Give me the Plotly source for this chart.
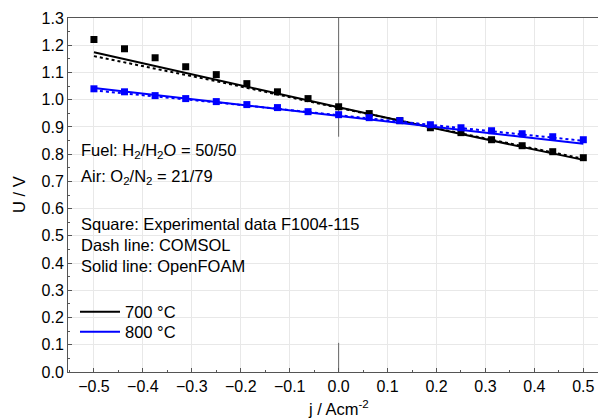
import plotly.graph_objects as go

j_exp = [-0.5, -0.4375, -0.375, -0.3125, -0.25, -0.1875, -0.125, -0.0625, 0.0,
         0.0625, 0.125, 0.1875, 0.25, 0.3125, 0.375, 0.4375, 0.5]
u_exp_700 = [1.221, 1.187, 1.154, 1.121, 1.092, 1.059, 1.029, 1.004, 0.974,
             0.949, 0.923, 0.897, 0.879, 0.853, 0.831, 0.809, 0.787]
u_exp_800 = [1.040, 1.029, 1.015, 1.004, 0.993, 0.982, 0.971, 0.956, 0.945,
             0.934, 0.923, 0.908, 0.897, 0.886, 0.875, 0.864, 0.853]

j_sim = [-0.5, -0.25, 0.0, 0.25, 0.5]
u_foam_700 = [1.174, 1.072, 0.972, 0.874, 0.779]
u_comsol_700 = [1.160, 1.068, 0.970, 0.876, 0.783]
u_foam_800 = [1.043, 0.992, 0.940, 0.889, 0.838]
u_comsol_800 = [1.034, 0.990, 0.943, 0.896, 0.849]

x_ticks = [-0.5, -0.4, -0.3, -0.2, -0.1, 0.0, 0.1, 0.2, 0.3, 0.4, 0.5]
y_ticks = [0.0, 0.1, 0.2, 0.3, 0.4, 0.5, 0.6, 0.7, 0.8, 0.9, 1.0, 1.1, 1.2, 1.3]

BLACK = "#000000"
BLUE = "#0000ff"
AXIS = "#555555"
FONT = "Liberation Sans, Arial, sans-serif"
FS = 16.5

L, T, PW, PH = 68, 18, 530, 354


def px(xp):
    return (xp - L) / PW


def py(yp):
    return (T + PH - yp) / PH


fig = go.Figure()

# zero line segments at j = 0
fig.add_trace(go.Scatter(x=[0, 0], y=[1.3, 0.864], mode="lines",
                         line=dict(color="#666666", width=1), showlegend=False, hoverinfo="skip"))
fig.add_trace(go.Scatter(x=[0, 0], y=[0.107, 0.0], mode="lines",
                         line=dict(color="#666666", width=1), showlegend=False, hoverinfo="skip"))

for u_exp, u_comsol, u_foam, color, name, leg in [
    (u_exp_700, u_comsol_700, u_foam_700, BLACK, "700 °C", "legend"),
    (u_exp_800, u_comsol_800, u_foam_800, BLUE, "800 °C", "legend2"),
]:
    fig.add_trace(go.Scatter(x=j_exp, y=u_exp, mode="markers",
                             marker=dict(symbol="square", size=7, color=color),
                             showlegend=False))
    fig.add_trace(go.Scatter(x=j_sim, y=u_comsol, mode="lines",
                             line=dict(color=color, width=2, dash="3px,3px"),
                             showlegend=False))
    fig.add_trace(go.Scatter(x=j_sim, y=u_foam, mode="lines",
                             line=dict(color=color, width=2), name=name, legend=leg))

texts = [
    ("Fuel: H<sub>2</sub>/H<sub>2</sub>O = 50/50", 151),
    ("Air: O<sub>2</sub>/N<sub>2</sub> = 21/79", 177),
    ("Square: Experimental data F1004-115", 224),
    ("Dash line: COMSOL", 245),
    ("Solid line: OpenFOAM", 266),
]
for t, ypix in texts:
    fig.add_annotation(text=t, xref="paper", yref="paper", x=px(79),
                       y=py(ypix), xanchor="left", yanchor="middle",
                       showarrow=False, font=dict(size=FS, color=BLACK, family=FONT))

# axis titles
fig.add_annotation(text="j / Acm<sup>-2</sup>", xref="paper", yref="paper",
                   x=px(338), y=py(408), xanchor="center", yanchor="middle",
                   showarrow=False, font=dict(size=FS, color=BLACK, family=FONT))
fig.add_annotation(text="U / V", xref="paper", yref="paper", textangle=-90,
                   x=px(19), y=py(195), xanchor="center", yanchor="middle",
                   showarrow=False, font=dict(size=FS, color=BLACK, family=FONT))

legend_common = dict(x=px(75), xanchor="left", yanchor="middle",
                     bgcolor="rgba(0,0,0,0)", font=dict(size=FS), itemwidth=40)

fig.update_layout(
    width=598, height=418,
    margin=dict(l=L, r=0, t=T, b=418 - T - PH),
    paper_bgcolor="white", plot_bgcolor="white",
    font=dict(family=FONT, size=16, color=BLACK),
    legend=dict(y=py(312), **legend_common),
    legend2=dict(y=py(332), **legend_common),
    xaxis=dict(range=[-0.553, 0.53], tickvals=x_ticks, tickformat=".1f",
               ticks="inside", ticklen=4, tickcolor=AXIS,
               showline=True, linecolor=AXIS, linewidth=1, mirror=True,
               showgrid=True, gridcolor="#e8e8e8", zeroline=False,
               minor=dict(dtick=0.05, ticks="inside", ticklen=2, tickcolor=AXIS, showgrid=False),
               automargin=False, tickfont=dict(size=16)),
    yaxis=dict(range=[0, 1.3], tickvals=y_ticks, tickformat=".1f",
               ticks="inside", ticklen=4, tickcolor=AXIS,
               showline=True, linecolor=AXIS, linewidth=1,
               showgrid=True, gridcolor="#e8e8e8", zeroline=False,
               minor=dict(dtick=0.05, ticks="inside", ticklen=2, tickcolor=AXIS, showgrid=False),
               automargin=False, tickfont=dict(size=16)),
)

fig.write_html("out.html")
